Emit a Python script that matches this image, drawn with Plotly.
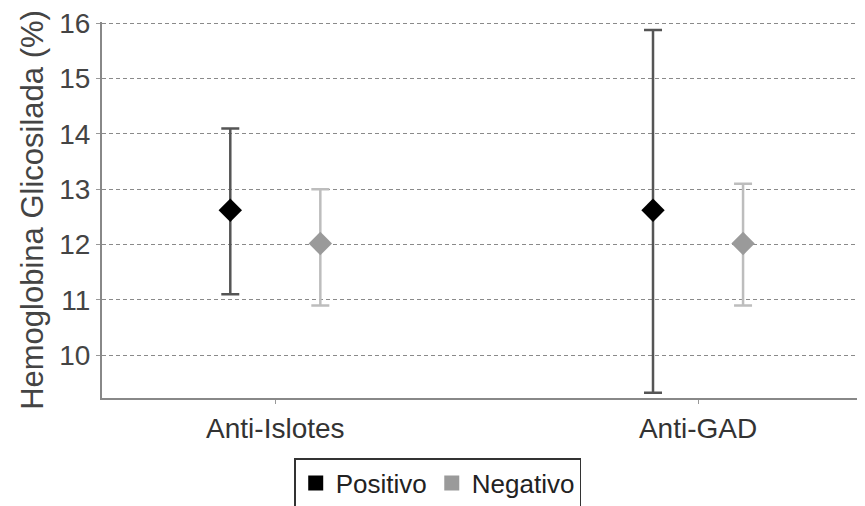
import plotly.graph_objects as go

categories = ["Anti-Islotes", "Anti-GAD"]
pos_mean = [12.62, 12.62]
pos_upper = [14.1, 15.88]
pos_lower = [11.1, 9.32]
neg_mean = [12.02, 12.02]
neg_upper = [13.0, 13.1]
neg_lower = [10.9, 10.9]
y_ticks = [10, 11, 12, 13, 14, 15, 16]

font_family = "Liberation Sans, Arial, sans-serif"

def err(mean, up, lo):
    return [u - m for u, m in zip(up, mean)], [m - l for m, l in zip(mean, lo)]

pu, pl = err(pos_mean, pos_upper, pos_lower)
nu, nl = err(neg_mean, neg_upper, neg_lower)

fig = go.Figure()
fig.add_trace(go.Scatter(
    x=categories, y=pos_mean, mode="markers", name="Positivo", showlegend=False,
    offsetgroup="pos",
    marker=dict(symbol="diamond", size=18, color="#000000"),
    error_y=dict(type="data", symmetric=False, array=pu, arrayminus=pl,
                 color="#555555", thickness=2.5, width=9),
))
fig.add_trace(go.Scatter(
    x=categories, y=neg_mean, mode="markers", name="Negativo", showlegend=False,
    offsetgroup="neg",
    marker=dict(symbol="diamond", size=18, color="#9a9a9a"),
    error_y=dict(type="data", symmetric=False, array=nu, arrayminus=nl,
                 color="#bdbdbd", thickness=2.5, width=9),
))
# legend entries (square swatches)
fig.add_trace(go.Scatter(x=[None], y=[None], mode="markers", name="Positivo",
                         marker=dict(symbol="square", size=15, color="#000000")))
fig.add_trace(go.Scatter(x=[None], y=[None], mode="markers", name="Negativo",
                         marker=dict(symbol="square", size=15, color="#9a9a9a")))

fig.update_layout(
    width=857, height=498,
    margin=dict(l=94, r=0, t=14, b=108, pad=0, autoexpand=False),
    paper_bgcolor="white", plot_bgcolor="white",
    scattermode="group", scattergap=0.574,
    font=dict(family=font_family, size=27, color="#333333"),
    showlegend=True,
    legend=dict(orientation="h", x=0.44, xanchor="center", y=-0.16, yanchor="top",
                bordercolor="#333333", borderwidth=1.5,
                font=dict(size=26, color="#222222"),
                itemwidth=30, tracegroupgap=0),
    xaxis=dict(type="category", range=[-0.41, 1.395], automargin=False,
               showline=True, linecolor="#888888", linewidth=2,
               showgrid=False, ticks="outside", ticklen=4, tickcolor="#999999",
               tickfont=dict(size=28, color="#333333")),
    yaxis=dict(range=[9.225, 16.025], tickvals=y_ticks,
               automargin=False, ticklabeloverflow="allow",
               showline=True, linecolor="#888888", linewidth=2,
               showgrid=True, gridcolor="#8a8a8a", griddash="4px,3px", gridwidth=1.2,
               zeroline=False, ticks="outside", ticklen=4, tickcolor="#999999",
               tickfont=dict(size=28, color="#444444"),
               title=dict(text="Hemoglobina Glicosilada (%)",
                          font=dict(size=31, color="#444444"), standoff=6)),
)

fig.write_html("out.html")
